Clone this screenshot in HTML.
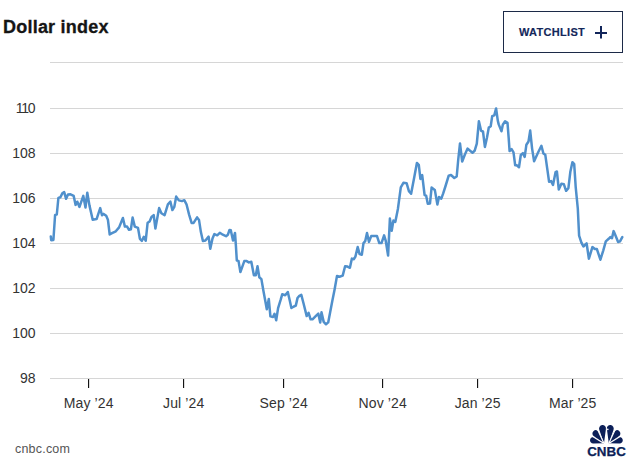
<!DOCTYPE html>
<html><head><meta charset="utf-8"><style>
html,body{margin:0;padding:0;background:#fff;}
body{width:638px;height:467px;position:relative;overflow:hidden;font-family:"Liberation Sans",sans-serif;}
.title{position:absolute;left:3px;top:15px;font-size:18px;font-weight:bold;color:#151515;line-height:24px;letter-spacing:0.22px;white-space:nowrap;-webkit-text-stroke:0.3px #151515;}
.btn{position:absolute;left:503px;top:11px;width:118px;height:40px;border:1px solid #1c2a48;}
.btn .t{position:absolute;left:15px;top:13px;font-size:11px;line-height:14px;font-weight:bold;color:#13275a;letter-spacing:0.3px;white-space:nowrap;-webkit-text-stroke:0.15px #13275a;}
.yl{position:absolute;left:0;width:35.5px;text-align:right;font-size:14px;line-height:18px;color:#333;}
.xl{position:absolute;top:394px;width:80px;text-align:center;font-size:14px;line-height:18px;color:#333;letter-spacing:0.1px;}
.src{position:absolute;left:15px;top:442px;font-size:12.5px;line-height:14px;color:#555;letter-spacing:0.2px;}
svg{position:absolute;left:0;top:0;}
</style></head><body>
<div class="title">Dollar index</div>
<div class="btn"><div class="t">WATCHLIST</div></div>
<svg width="638" height="467" viewBox="0 0 638 467">
<rect x="50" y="62" width="573" height="1" fill="#d6d6d6"/><rect x="50" y="108" width="573" height="1" fill="#d6d6d6"/><rect x="50" y="153" width="573" height="1" fill="#d6d6d6"/><rect x="50" y="198" width="573" height="1" fill="#d6d6d6"/><rect x="50" y="243" width="573" height="1" fill="#d6d6d6"/><rect x="50" y="288" width="573" height="1" fill="#d6d6d6"/><rect x="50" y="333" width="573" height="1" fill="#d6d6d6"/><rect x="50" y="378" width="573" height="1" fill="#d6d6d6"/>
<rect x="88" y="379" width="1.15" height="9" fill="#141414"/><rect x="183" y="379" width="1.15" height="9" fill="#141414"/><rect x="283" y="379" width="1.15" height="9" fill="#141414"/><rect x="382" y="379" width="1.15" height="9" fill="#141414"/><rect x="477" y="379" width="1.15" height="9" fill="#141414"/><rect x="572" y="379" width="1.15" height="9" fill="#141414"/>
<rect x="600" y="26" width="2" height="12.5" fill="#12255a"/>
<rect x="595" y="32" width="12" height="2" fill="#12255a"/>
<path d="M50.8,236.4 L51.2,240.2 L53.4,240.0 L55.1,214.9 L56.8,214.5 L58.4,197.9 L60.4,197.2 L62.3,193.4 L64.2,192.1 L66.1,198.8 L68.0,194.6 L70.5,194.3 L73.7,195.9 L75.6,204.9 L77.3,201.7 L79.5,206.9 L83.3,195.9 L85.5,207.5 L87.3,192.7 L89.5,205.6 L92.7,219.7 L96.6,219.1 L100.2,208.1 L102.0,215.2 L103.6,213.9 L106.2,215.8 L107.9,219.7 L109.7,234.5 L112.0,233.2 L115.8,231.3 L119.1,227.4 L122.9,218.0 L124.9,226.6 L127.1,226.6 L129.0,229.8 L130.9,229.2 L132.6,217.6 L134.8,226.6 L138.0,227.9 L139.9,238.8 L141.9,240.8 L143.8,236.9 L145.7,240.8 L147.6,222.8 L149.6,221.5 L151.5,217.0 L153.7,215.1 L155.4,228.5 L159.1,208.1 L161.4,213.3 L164.6,215.2 L167.9,204.3 L170.4,201.7 L172.4,210.1 L174.3,206.9 L176.2,196.6 L178.8,200.4 L182.0,201.1 L184.3,200.2 L186.5,204.3 L189.1,214.6 L191.6,222.9 L193.6,222.9 L197.1,217.4 L199.0,219.9 L200.9,232.1 L202.9,241.1 L205.4,240.5 L208.6,236.6 L210.3,248.8 L212.5,238.6 L214.4,234.1 L217.2,235.3 L219.8,232.8 L222.8,234.7 L226.0,236.2 L227.9,234.7 L229.5,230.0 L230.8,230.3 L233.0,240.6 L235.0,232.9 L235.9,245.7 L236.8,260.5 L238.5,260.9 L240.4,272.1 L244.3,261.1 L246.2,260.9 L248.8,262.4 L251.3,261.8 L253.9,275.3 L255.8,275.3 L257.5,266.3 L259.3,277.2 L261.4,279.1 L263.4,290.7 L265.3,301.0 L266.8,309.3 L268.8,299.1 L270.4,316.4 L273.0,317.1 L274.5,313.8 L276.2,320.3 L278.1,308.1 L280.7,299.7 L282.2,294.3 L285.2,295.2 L287.8,292.0 L289.7,300.3 L291.4,308.0 L293.9,306.5 L295.8,305.6 L297.5,298.1 L299.0,296.2 L301.3,294.9 L303.5,303.3 L306.7,316.1 L308.6,312.9 L310.6,319.3 L312.5,319.3 L315.7,316.1 L318.3,313.6 L320.2,322.6 L321.5,312.3 L323.7,321.9 L326.0,324.3 L328.2,322.4 L332.2,301.6 L334.6,289.5 L337.0,275.9 L339.5,276.7 L342.7,275.6 L345.1,266.2 L347.5,266.6 L349.9,267.8 L351.9,258.6 L353.9,259.2 L355.4,256.6 L357.7,247.0 L359.6,254.1 L361.8,254.7 L363.5,243.1 L365.2,241.2 L367.0,232.9 L369.0,241.9 L371.2,236.1 L373.8,236.1 L377.0,236.1 L379.3,243.1 L381.5,243.1 L384.1,235.4 L385.7,240.6 L388.1,255.6 L389.9,218.6 L391.7,230.8 L393.4,220.6 L395.3,221.9 L397.9,209.0 L400.8,187.3 L403.4,182.8 L406.6,183.2 L408.9,191.1 L411.1,193.7 L414.3,177.0 L416.9,162.9 L418.8,164.8 L420.4,178.9 L422.2,175.1 L424.6,195.0 L426.1,195.6 L427.8,203.7 L430.0,203.4 L431.6,187.6 L434.8,189.9 L437.4,204.5 L439.0,197.0 L441.3,198.6 L443.2,193.4 L445.7,185.5 L448.7,175.7 L451.0,175.0 L454.3,178.0 L456.7,176.5 L458.2,160.0 L460.0,143.5 L462.2,161.5 L464.8,154.7 L467.6,148.6 L470.1,150.8 L472.5,152.7 L474.6,150.8 L476.8,143.7 L478.9,121.2 L481.1,130.8 L483.0,131.5 L484.9,146.9 L486.9,137.9 L488.8,127.6 L490.7,126.3 L492.2,116.1 L494.3,115.4 L496.1,108.4 L497.8,120.6 L498.7,124.4 L501.5,131.3 L502.8,124.8 L505.1,121.3 L507.5,122.9 L508.7,138.3 L509.6,151.1 L511.6,149.2 L513.5,152.4 L515.2,165.3 L516.7,165.3 L519.0,167.2 L520.8,155.0 L522.9,153.1 L524.7,156.9 L526.4,144.7 L528.5,141.5 L530.2,130.6 L532.1,148.6 L534.1,161.3 L538.2,152.2 L541.4,145.8 L543.4,153.5 L545.3,154.8 L547.2,168.3 L549.1,181.8 L551.1,181.1 L553.0,185.0 L555.6,172.1 L556.9,171.5 L558.8,189.5 L561.4,183.7 L563.9,184.3 L566.1,190.8 L568.4,188.2 L570.3,172.1 L572.4,162.2 L574.2,164.2 L575.7,187.1 L577.8,208.5 L579.1,235.6 L581.4,242.6 L583.4,246.5 L586.6,243.3 L588.9,258.7 L592.4,247.1 L594.9,249.1 L596.9,249.1 L600.4,259.7 L603.3,250.3 L605.8,241.4 L608.7,238.8 L610.3,237.1 L612.0,238.1 L613.6,231.1 L615.5,235.6 L618.1,242.0 L620.0,241.4 L622.3,237.1" fill="none" stroke="#5090cc" stroke-width="2.5" stroke-linejoin="round" stroke-linecap="round"/>
<path d="M604.00,443.30 L599.24,429.63 A3.45,3.45 0 1 1 605.92,428.96 Z M608.80,443.30 L606.88,428.96 A3.45,3.45 0 1 1 613.56,429.63 Z M604.00,443.30 L593.87,436.30 A3.40,3.40 0 1 1 598.89,432.09 Z M608.80,443.30 L613.91,432.09 A3.40,3.40 0 1 1 618.93,436.30 Z M604.00,443.30 L593.39,443.60 A3.30,3.30 0 1 1 595.09,437.53 Z M608.80,443.30 L617.71,437.53 A3.30,3.30 0 1 1 619.41,443.60 Z" fill="#0c1f58"/><path d="M603.80,443.00 L597.50,429.50 M609.00,443.00 L615.30,429.50 M603.60,443.20 L591.50,435.80 M609.20,443.20 L621.30,435.80" stroke="#fff" stroke-width="1.1" fill="none"/><circle cx="607.8" cy="429.4" r="0.8" fill="#fff"/>
<text x="587.2" y="455.6" font-family="Liberation Sans" font-weight="bold" font-size="12.3" textLength="38.6" stroke="#0c1f58" stroke-width="0.25" lengthAdjust="spacingAndGlyphs" fill="#0c1f58">CNBC</text>
</svg>
<div class="yl" style="top:99px"><span style="letter-spacing:-1.3px">11</span>0</div><div class="yl" style="top:144px">108</div><div class="yl" style="top:189px">106</div><div class="yl" style="top:234px">104</div><div class="yl" style="top:279px">102</div><div class="yl" style="top:324px">100</div><div class="yl" style="top:369px">98</div>
<div class="xl" style="left:48.7px">May ’24</div><div class="xl" style="left:143.7px">Jul ’24</div><div class="xl" style="left:243.7px">Sep ’24</div><div class="xl" style="left:342.7px">Nov ’24</div><div class="xl" style="left:437.7px">Jan ’25</div><div class="xl" style="left:532.7px">Mar ’25</div>
<div class="src">cnbc.com</div>
</body></html>
